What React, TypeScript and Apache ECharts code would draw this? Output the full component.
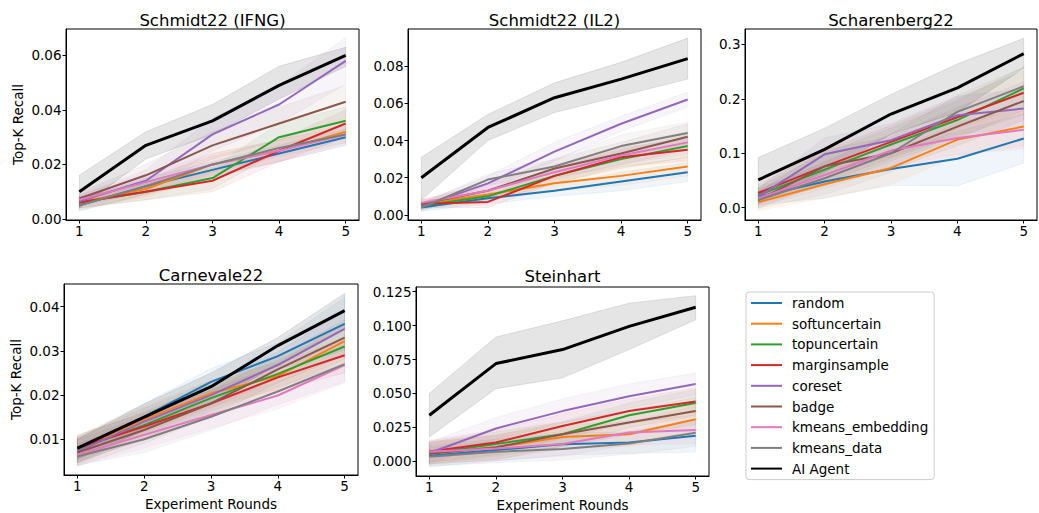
import React, { useEffect, useRef } from "react";
import * as echarts from "echarts";

const rounds = [1, 2, 3, 4, 5];
const methods = [
  "random",
  "softuncertain",
  "topuncertain",
  "marginsample",
  "coreset",
  "badge",
  "kmeans_embedding",
  "kmeans_data",
  "AI Agent",
];
const colors = [
  "#1f77b4",
  "#ff7f0e",
  "#2ca02c",
  "#d62728",
  "#9467bd",
  "#8c564b",
  "#e377c2",
  "#7f7f7f",
  "#000000",
];

// Schmidt22 (IFNG)
const ifngValues = [
  [0.005, 0.012, 0.018, 0.024, 0.030],
  [0.006, 0.011, 0.020, 0.025, 0.032],
  [0.006, 0.010, 0.015, 0.030, 0.036],
  [0.006, 0.010, 0.014, 0.025, 0.035],
  [0.0065, 0.014, 0.031, 0.042, 0.058],
  [0.0075, 0.016, 0.027, 0.035, 0.043],
  [0.007, 0.0135, 0.020, 0.025, 0.031],
  [0.005, 0.012, 0.020, 0.026, 0.031],
  [0.010, 0.027, 0.036, 0.049, 0.060],
];
const ifngSpread = [
  [0.002, 0.003, 0.003, 0.003, 0.003],
  [0.002, 0.003, 0.004, 0.004, 0.004],
  [0.002, 0.003, 0.004, 0.005, 0.005],
  [0.002, 0.003, 0.004, 0.004, 0.005],
  [0.002, 0.004, 0.006, 0.007, 0.0085],
  [0.002, 0.004, 0.005, 0.006, 0.006],
  [0.002, 0.003, 0.004, 0.004, 0.004],
  [0.002, 0.003, 0.003, 0.003, 0.003],
];
const ifngAgentLow = [0.004, 0.022, 0.031, 0.044, 0.056];
const ifngAgentHigh = [0.016, 0.032, 0.042, 0.056, 0.063];
const ifngTicks = [0, 0.02, 0.04, 0.06];

// Schmidt22 (IL2)
const il2Values = [
  [0.004, 0.009, 0.013, 0.018, 0.023],
  [0.006, 0.011, 0.017, 0.021, 0.026],
  [0.005, 0.010, 0.021, 0.030, 0.037],
  [0.006, 0.007, 0.021, 0.031, 0.035],
  [0.0045, 0.017, 0.034, 0.049, 0.062],
  [0.006, 0.013, 0.025, 0.033, 0.042],
  [0.0065, 0.013, 0.023, 0.032, 0.039],
  [0.004, 0.019, 0.026, 0.037, 0.044],
  [0.020, 0.047, 0.063, 0.073, 0.084],
];
const il2Spread = [
  [0.002, 0.003, 0.003, 0.005, 0.005],
  [0.002, 0.003, 0.004, 0.005, 0.005],
  [0.002, 0.003, 0.004, 0.005, 0.006],
  [0.002, 0.003, 0.004, 0.005, 0.006],
  [0.002, 0.004, 0.005, 0.004, 0.004],
  [0.002, 0.004, 0.005, 0.006, 0.007],
  [0.002, 0.004, 0.004, 0.005, 0.006],
  [0.002, 0.003, 0.004, 0.006, 0.006],
];
const il2AgentLow = [0.008, 0.040, 0.055, 0.064, 0.073];
const il2AgentHigh = [0.031, 0.054, 0.071, 0.082, 0.095];
const il2Ticks = [0, 0.02, 0.04, 0.06, 0.08];

// Scharenberg22
const scharValues = [
  [0.020, 0.048, 0.071, 0.090, 0.127],
  [0.010, 0.043, 0.073, 0.125, 0.149],
  [0.023, 0.070, 0.116, 0.161, 0.219],
  [0.027, 0.076, 0.121, 0.166, 0.211],
  [0.020, 0.098, 0.124, 0.170, 0.182],
  [0.014, 0.076, 0.100, 0.149, 0.196],
  [0.017, 0.060, 0.105, 0.128, 0.143],
  [0.014, 0.054, 0.100, 0.176, 0.223],
  [0.051, 0.107, 0.172, 0.220, 0.283],
];
const scharSpread = [
  [0.015, 0.030, 0.030, 0.050, 0.045],
  [0.015, 0.025, 0.030, 0.030, 0.035],
  [0.015, 0.030, 0.030, 0.035, 0.040],
  [0.015, 0.030, 0.030, 0.035, 0.040],
  [0.015, 0.030, 0.030, 0.035, 0.035],
  [0.015, 0.030, 0.030, 0.035, 0.035],
  [0.015, 0.025, 0.030, 0.030, 0.035],
  [0.015, 0.030, 0.035, 0.030, 0.035],
];
const scharAgentLow = [0.012, 0.065, 0.135, 0.175, 0.256];
const scharAgentHigh = [0.092, 0.146, 0.208, 0.264, 0.311];
const scharTicks = [0, 0.1, 0.2, 0.3];

// Carnevale22
const carnValues = [
  [0.0076, 0.0151, 0.023, 0.0288, 0.0361],
  [0.0076, 0.0145, 0.0204, 0.0243, 0.0322],
  [0.0077, 0.0132, 0.0193, 0.0248, 0.031],
  [0.008, 0.0129, 0.0181, 0.024, 0.029],
  [0.0072, 0.014, 0.020, 0.0268, 0.035],
  [0.007, 0.0121, 0.0181, 0.0258, 0.033],
  [0.0065, 0.011, 0.0155, 0.0199, 0.0268],
  [0.0061, 0.010, 0.0151, 0.0208, 0.027],
  [0.008, 0.015, 0.0219, 0.0312, 0.0391],
];
const carnSpread = [
  [0.003, 0.003, 0.003, 0.003, 0.006],
  [0.003, 0.003, 0.003, 0.003, 0.004],
  [0.003, 0.003, 0.003, 0.003, 0.004],
  [0.003, 0.003, 0.003, 0.003, 0.004],
  [0.003, 0.003, 0.003, 0.003, 0.004],
  [0.003, 0.003, 0.003, 0.003, 0.004],
  [0.0026, 0.003, 0.003, 0.003, 0.004],
  [0.002, 0.003, 0.003, 0.003, 0.004],
];
const carnAgentLow = [0.0055, 0.012, 0.018, 0.027, 0.035];
const carnAgentHigh = [0.010, 0.018, 0.025, 0.033, 0.043];
const carnTicks = [0.01, 0.02, 0.03, 0.04];

// Steinhart
const steinValues = [
  [0.0041, 0.0083, 0.0125, 0.0139, 0.0188],
  [0.006, 0.0103, 0.018, 0.020, 0.031],
  [0.006, 0.0127, 0.020, 0.034, 0.043],
  [0.0073, 0.0139, 0.026, 0.037, 0.044],
  [0.0061, 0.0242, 0.037, 0.048, 0.057],
  [0.0056, 0.0103, 0.020, 0.0286, 0.037],
  [0.007, 0.0095, 0.0127, 0.0212, 0.023],
  [0.0034, 0.007, 0.009, 0.0132, 0.021],
  [0.0339, 0.072, 0.0823, 0.0994, 0.1135],
];
const steinSpread = [
  [0.008, 0.008, 0.008, 0.008, 0.012],
  [0.008, 0.009, 0.009, 0.009, 0.010],
  [0.008, 0.009, 0.009, 0.009, 0.010],
  [0.008, 0.009, 0.009, 0.009, 0.010],
  [0.008, 0.008, 0.009, 0.009, 0.008],
  [0.008, 0.009, 0.009, 0.009, 0.010],
  [0.008, 0.009, 0.009, 0.009, 0.010],
  [0.007, 0.008, 0.008, 0.008, 0.010],
];
const steinAgentLow = [0.018, 0.0535, 0.0615, 0.0823, 0.1043];
const steinAgentHigh = [0.050, 0.0916, 0.1035, 0.1165, 0.122];
const steinTicks = [0, 0.025, 0.05, 0.075, 0.1, 0.125];

const FONT = "'DejaVu Sans', 'Liberation Sans', sans-serif";

const panels = [
  {
    title: "Schmidt22 (IFNG)",
    values: ifngValues, spread: ifngSpread, agentLow: ifngAgentLow, agentHigh: ifngAgentHigh,
    ticks: ifngTicks, decimals: 2, yMin: -0.0004, yMax: 0.0697,
    box: { left: 66, top: 29, right: 359, bottom: 220 }, titleY: 20,
    yName: true, xName: false,
  },
  {
    title: "Schmidt22 (IL2)",
    values: il2Values, spread: il2Spread, agentLow: il2AgentLow, agentHigh: il2AgentHigh,
    ticks: il2Ticks, decimals: 2, yMin: -0.0027, yMax: 0.0999,
    box: { left: 408, top: 29, right: 701, bottom: 220 }, titleY: 20,
    yName: false, xName: false,
  },
  {
    title: "Scharenberg22",
    values: scharValues, spread: scharSpread, agentLow: scharAgentLow, agentHigh: scharAgentHigh,
    ticks: scharTicks, decimals: 1, yMin: -0.0226, yMax: 0.3282,
    box: { left: 745, top: 29, right: 1037, bottom: 220 }, titleY: 20,
    yName: false, xName: false,
  },
  {
    title: "Carnevale22",
    values: carnValues, spread: carnSpread, agentLow: carnAgentLow, agentHigh: carnAgentHigh,
    ticks: carnTicks, decimals: 2, yMin: 0.00192, yMax: 0.04513,
    box: { left: 64, top: 284, right: 358, bottom: 475 }, titleY: 275,
    yName: true, xName: true,
  },
  {
    title: "Steinhart",
    values: steinValues, spread: steinSpread, agentLow: steinAgentLow, agentHigh: steinAgentHigh,
    ticks: steinTicks, decimals: 3, yMin: -0.0108, yMax: 0.1284,
    box: { left: 416, top: 287, right: 709, bottom: 477 }, titleY: 276,
    yName: false, xName: true,
  },
];

function rgba(hex: string, a: number) {
  const n = parseInt(hex.slice(1), 16);
  return `rgba(${(n >> 16) & 255},${(n >> 8) & 255},${n & 255},${a})`;
}

function bandSeries(gi: number, lo: number[], hi: number[], color: string, alpha: number) {
  return {
    type: "custom",
    xAxisIndex: gi,
    yAxisIndex: gi,
    silent: true,
    z: 1,
    data: rounds.map((r, i) => [r, lo[i], hi[i]]),
    encode: { x: 0, y: [1, 2] },
    renderItem: (params: any, api: any) => {
      if (params.dataIndex !== 0) return null;
      const upper = rounds.map((r, i) => api.coord([r, hi[i]]));
      const lower = rounds.map((r, i) => api.coord([r, lo[i]])).reverse();
      return {
        type: "polygon",
        shape: { points: upper.concat(lower) },
        style: { fill: rgba(color, alpha), stroke: rgba(color, alpha), lineWidth: 1 },
      };
    },
  };
}

export default function App() {
  const ref = useRef<HTMLDivElement>(null);
  useEffect(() => {
    if (!ref.current) return;
    const chart = echarts.init(ref.current, undefined, { renderer: "svg" });
    const grids: any[] = [];
    const xAxes: any[] = [];
    const yAxes: any[] = [];
    const series: any[] = [];
    const graphics: any[] = [];

    panels.forEach((p, gi) => {
      const b = p.box;
      grids.push({
        left: b.left, top: b.top, width: b.right - b.left, height: b.bottom - b.top,
        show: true, borderColor: "#000", borderWidth: 1, backgroundColor: "transparent",
      });
      xAxes.push({
        type: "value", gridIndex: gi, min: 0.8, max: 5.2,
        axisLine: { show: true, onZero: false, lineStyle: { color: "#000", width: 1 } },
        axisTick: { show: true, customValues: rounds, length: 3.5, lineStyle: { color: "#000" } },
        axisLabel: { customValues: rounds, margin: 4, color: "#000", fontSize: 13.5, fontFamily: FONT },
        splitLine: { show: false },
        name: p.xName ? "Experiment Rounds" : "",
        nameLocation: "middle", nameGap: 22,
        nameTextStyle: { color: "#000", fontSize: 13.5, fontFamily: FONT, verticalAlign: "top" },
      });
      yAxes.push({
        type: "value", gridIndex: gi, min: p.yMin, max: p.yMax,
        axisLine: { show: true, onZero: false, lineStyle: { color: "#000", width: 1 } },
        axisTick: { show: true, customValues: p.ticks, length: 3.5, lineStyle: { color: "#000" } },
        axisLabel: {
          customValues: p.ticks, margin: 4.5, color: "#000", fontSize: 13.5, fontFamily: FONT,
          formatter: (v: number) => v.toFixed(p.decimals),
        },
        splitLine: { show: false },
        name: p.yName ? "Top-K Recall" : "",
        nameLocation: "middle", nameGap: 41, nameRotate: 90,
        nameTextStyle: { color: "#000", fontSize: 13.5, fontFamily: FONT },
      });
      p.spread.forEach((sp, m) => {
        const v = p.values[m];
        series.push(bandSeries(gi, v.map((x, i) => x - sp[i]), v.map((x, i) => x + sp[i]), colors[m], 0.07));
      });
      series.push(bandSeries(gi, p.agentLow, p.agentHigh, "#000000", 0.1));
      p.values.forEach((v, m) => {
        const isAgent = m === methods.length - 1;
        series.push({
          type: "line", name: methods[m], xAxisIndex: gi, yAxisIndex: gi,
          data: rounds.map((r, i) => [r, v[i]]),
          symbol: "none", showSymbol: false,
          lineStyle: { color: colors[m], width: isAgent ? 3 : 2 },
          itemStyle: { color: colors[m] },
          z: isAgent ? 4 : 3,
          emphasis: { disabled: true },
        });
      });
      graphics.push({
        type: "text",
        x: (b.left + b.right) / 2, y: p.titleY,
        style: {
          text: p.title, fill: "#000", fontSize: 16.5, fontFamily: FONT,
          align: "center", verticalAlign: "middle",
        },
      });
    });

    chart.setOption({
      animation: false,
      backgroundColor: "#fff",
      grid: grids,
      xAxis: xAxes,
      yAxis: yAxes,
      series,
      graphic: graphics,
      legend: {
        data: methods,
        orient: "vertical",
        left: 746, top: 292,
        itemWidth: 31, itemHeight: 14, itemGap: 6.7,
        padding: [4, 6, 4, 4],
        borderColor: "#cccccc", borderWidth: 1, borderRadius: 3,
        backgroundColor: "#fff",
        selectedMode: false,
        itemStyle: { color: "rgba(0,0,0,0)", borderColor: "rgba(0,0,0,0)", borderWidth: 0, opacity: 0 },
        textStyle: { color: "#000", fontSize: 13.5, fontFamily: FONT, padding: [0, 0, 0, 5] },
      },
    });
    return () => chart.dispose();
  }, []);
  return (
    <div
      ref={ref}
      style={{ position: "fixed", left: 0, top: 0, width: 1039, height: 513 }}
    />
  );
}
